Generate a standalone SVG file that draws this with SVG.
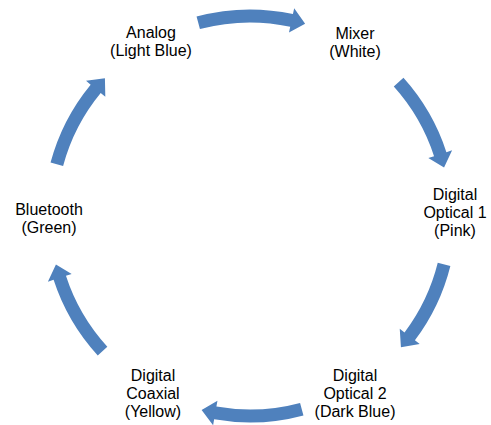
<svg xmlns="http://www.w3.org/2000/svg" width="491" height="425" viewBox="0 0 491 425">
<style>
.arr{fill:#4F81BD;stroke:none}
.lbl{font-family:"Liberation Sans",Arial,sans-serif;font-size:16px;fill:#000;text-anchor:middle}
</style>
<rect width="491" height="425" fill="#fff"/>
<g id="connectors">
<path class="arr" d="M196.56,16.54 A206.5,206.5 0 0 1 292.93,14.02 L294.18,8.15 L305.12,23.74 L288.98,32.61 L290.23,26.74 A193.5,193.5 0 0 0 199.92,29.10 Z"/>
<path class="arr" d="M403.45,77.83 A206.5,206.5 0 0 1 446.40,152.19 L452.11,150.34 L444.06,167.62 L428.33,158.06 L434.04,156.21 A193.5,193.5 0 0 0 393.79,86.53 Z"/>
<path class="arr" d="M450.37,265.95 A206.5,206.5 0 0 1 414.91,340.27 L419.70,343.88 L400.94,347.22 L399.74,328.84 L404.53,332.45 A193.5,193.5 0 0 0 437.75,262.81 Z"/>
<path class="arr" d="M303.44,415.46 A206.5,206.5 0 0 1 214.15,419.36 L213.11,425.27 L201.62,410.06 L217.45,400.65 L216.41,406.56 A193.5,193.5 0 0 0 300.08,402.90 Z"/>
<path class="arr" d="M97.75,355.51 A206.5,206.5 0 0 1 53.60,279.81 L47.89,281.66 L55.94,264.38 L71.67,273.94 L65.96,275.79 A193.5,193.5 0 0 0 107.33,346.73 Z"/>
<path class="arr" d="M50.54,162.56 A206.5,206.5 0 0 1 90.66,84.65 L86.03,80.83 L104.92,78.32 L105.32,96.73 L100.70,92.92 A193.5,193.5 0 0 0 63.10,165.92 Z"/>
</g>
<g id="analog"><text class="lbl" x="151" y="38">Analog</text><text class="lbl" x="151" y="56">(Light Blue)</text></g>
<g id="mixer"><text class="lbl" x="355" y="39">Mixer</text><text class="lbl" x="355" y="57">(White)</text></g>
<g id="optical1"><text class="lbl" x="455" y="200">Digital</text><text class="lbl" x="455" y="218">Optical 1</text><text class="lbl" x="455" y="236">(Pink)</text></g>
<g id="optical2"><text class="lbl" x="355" y="381">Digital</text><text class="lbl" x="355" y="399">Optical 2</text><text class="lbl" x="355" y="417">(Dark Blue)</text></g>
<g id="coaxial"><text class="lbl" x="153" y="381">Digital</text><text class="lbl" x="153" y="399">Coaxial</text><text class="lbl" x="153" y="417">(Yellow)</text></g>
<g id="bluetooth"><text class="lbl" x="49" y="215">Bluetooth</text><text class="lbl" x="49" y="233">(Green)</text></g>
</svg>
